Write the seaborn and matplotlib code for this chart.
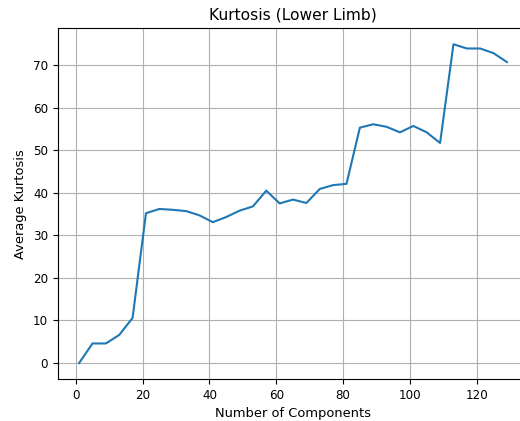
import matplotlib
matplotlib.use("Agg")
import matplotlib.pyplot as plt
import seaborn as sns
import pandas as pd

components = list(range(1, 130, 4))
kurtosis = [0.0, 4.6, 4.6, 6.6, 10.6, 35.2, 36.2, 36.0, 35.7, 34.7, 33.1,
            34.3, 35.8, 36.8, 40.5, 37.5, 38.4, 37.6, 40.9, 41.8, 42.1,
            55.3, 56.1, 55.5, 54.2, 55.7, 54.2, 51.7, 74.9, 73.9, 73.9,
            72.8, 70.7]

df = pd.DataFrame({"Number of Components": components, "Average Kurtosis": kurtosis})

fig = plt.figure(figsize=(5.2, 4.21), dpi=100)
ax = fig.add_axes([0.111, 0.0998, 0.905, 0.833])
sns.lineplot(data=df, x="Number of Components", y="Average Kurtosis", ax=ax,
             color="#1f77b4", linewidth=1.5)
ax.grid(True, color="#b0b0b0", linewidth=0.8)
ax.set_axisbelow(True)
ax.spines["right"].set_visible(False)
ax.set_title("Kurtosis (Lower Limb)", fontsize=11.2)
ax.set_xlabel("Number of Components", fontsize=9.4)
ax.set_ylabel("Average Kurtosis", fontsize=9.4)
ax.tick_params(labelsize=8.6)
ax.set_xticks([0, 20, 40, 60, 80, 100, 120])
ax.set_yticks([0, 10, 20, 30, 40, 50, 60, 70])
fig.savefig("out.png", dpi=100)
